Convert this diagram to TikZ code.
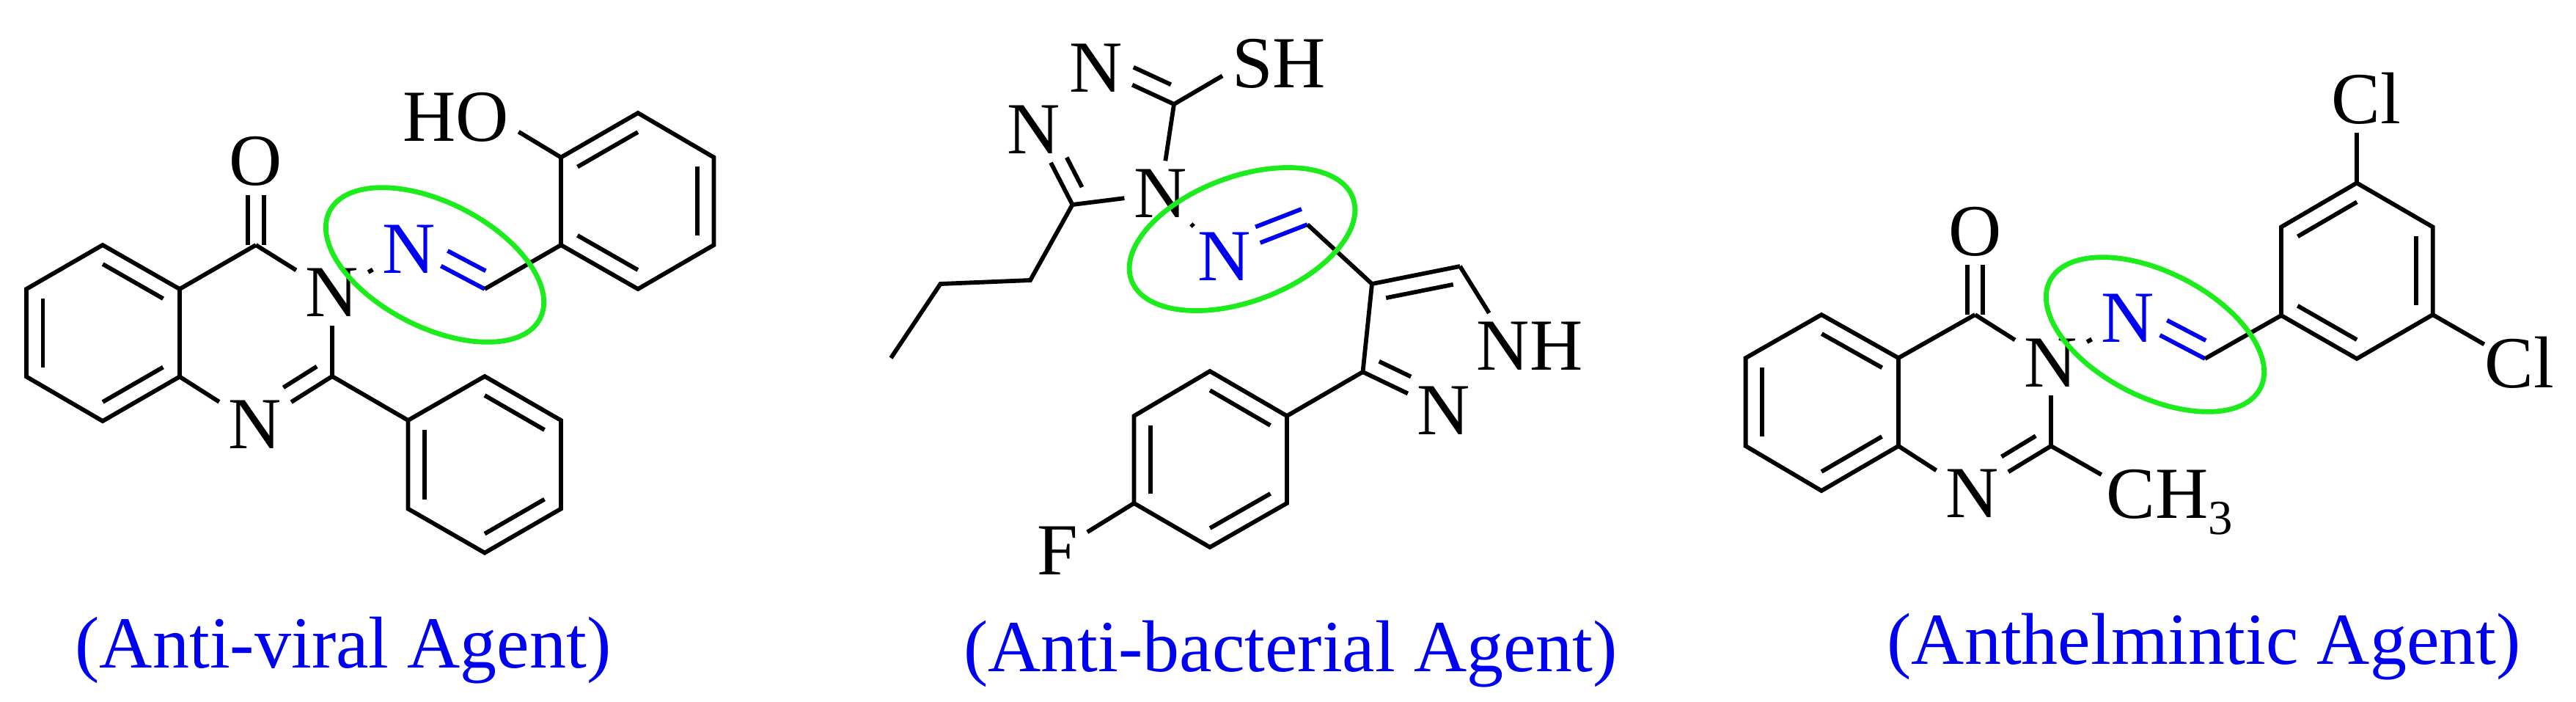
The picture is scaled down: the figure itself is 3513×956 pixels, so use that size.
\documentclass[tikz,border=0pt]{standalone}
\usepackage{fontspec}
\setmainfont{Liberation Serif}
\usetikzlibrary{calc}
\usetikzlibrary{shapes.geometric}
\definecolor{ringgreen}{RGB}{28,236,28}
\definecolor{agentblue}{RGB}{0,0,240}
\newcommand{\innerbond}[6][black]{\draw[bond,#1] ($(#2)!#4!(#3)!.225cm!#6:(#3)$) -- ($(#2)!#5!(#3)!.225cm!#6:(#3)$);}
\tikzset{
  bond/.style={line width=.058cm,line join=miter},
  atom/.style={inner xsep=.13cm,inner ysep=.12cm,outer sep=0pt},
  blueatom/.style={atom,text=agentblue},
  agent/.style={anchor=base,text=agentblue,inner sep=0pt},
  halo/.style={draw=ringgreen,line width=.068cm,ellipse,minimum width=3.22cm,minimum height=1.70cm,inner sep=0pt}
}
\begin{document}
\begin{tikzpicture}[x=.01cm,y=-.01cm,font=\fontsize{28.45pt}{30pt}\selectfont]
\useasboundingbox (0,0) rectangle (3513,956);
% left molecule
\coordinate (a1) at (140,334);
\coordinate (a2) at (245,394);
\coordinate (a3) at (245,513.5);
\coordinate (a4) at (140,574);
\coordinate (a5) at (36,513.5);
\coordinate (a6) at (36,394);
\coordinate (c4) at (349,334);
\coordinate (c2) at (453,513);
\coordinate (p1) at (556.5,573);
\coordinate (p2) at (661,513);
\coordinate (p3) at (765,573);
\coordinate (p4) at (765,693.6);
\coordinate (p5) at (661,753.6);
\coordinate (p6) at (556.5,693.6);
\coordinate (im) at (661,394);
\coordinate (r1) at (765,334);
\coordinate (r2) at (765,214.5);
\coordinate (r3) at (870,154);
\coordinate (r4) at (973.5,214.5);
\coordinate (r5) at (973.5,334);
\coordinate (r6) at (870,394);
\node [atom, name=o1] at (349,220) {O};
\node [atom, name=n3] at (453,399) {N};
\node [atom, name=n1] at (348,579) {N};
\node [blueatom, name=bn] at (557.5,339.5) {N};
\node [atom, name=ho] at (622,160) {HO};
\node [agent, name=lab1] at (468,910) {(Anti-viral Agent)};
\draw [bond] (a1) -- (a2) -- (a3) -- (a4) -- (a5) -- (a6) -- cycle;
\innerbond{a1}{a2}{.108}{.892}{-90}
\innerbond{a3}{a4}{.108}{.892}{-90}
\innerbond{a5}{a6}{.108}{.892}{-90}
\draw [bond] (a2) -- (c4);
\draw [bond] ([xshift=-.11cm]c4) -- ([xshift=-.11cm]o1.south);
\draw [bond] ([xshift=.11cm]c4) -- ([xshift=.11cm]o1.south);
\draw [bond] (c4) -- (n3);
\draw [bond] (n3) -- (c2);
\draw [bond] (c2) -- (n1);
\innerbond{c2}{n1}{.085}{.52}{-90}
\draw [bond] (a3) -- (n1);
\draw [bond] (c2) -- (p1);
\draw [bond] (p1) -- (p2) -- (p3) -- (p4) -- (p5) -- (p6) -- cycle;
\innerbond{p2}{p3}{.108}{.892}{-90}
\innerbond{p4}{p5}{.108}{.892}{-90}
\innerbond{p6}{p1}{.108}{.892}{-90}
\draw [bond] (n3) -- (bn);
\draw [bond,agentblue,shorten >=-.06cm] (im) -- (bn);
\innerbond[agentblue]{im}{bn}{.088}{.59}{-90}
\draw [bond] (im) -- (r1);
\draw [bond] (r1) -- (r2) -- (r3) -- (r4) -- (r5) -- (r6) -- cycle;
\innerbond{r2}{r3}{.108}{.892}{-90}
\innerbond{r4}{r5}{.108}{.892}{-90}
\innerbond{r6}{r1}{.108}{.892}{-90}
\draw [bond] (r2) -- (ho.-13);
\node [halo, rotate=-27, name=h1] at (593,361) {};
% middle molecule
\coordinate (t1) at (1601,142);
\coordinate (t2) at (1462.5,279);
\coordinate (b1) at (1405,382);
\coordinate (b2) at (1282.5,387);
\coordinate (b3) at (1215,488);
\coordinate (im2) at (1783,306);
\coordinate (z4) at (1871,387);
\coordinate (z5) at (1991,363);
\coordinate (z3) at (1858.5,507);
\coordinate (s1) at (1755,567);
\coordinate (s2) at (1650,506);
\coordinate (s3) at (1546.5,567);
\coordinate (s4) at (1546.5,686);
\coordinate (s5) at (1650,746);
\coordinate (s6) at (1755,686);
\node [atom, name=tn1] at (1495,93) {N};
\node [atom, name=tn2] at (1410,177) {N};
\node [atom, name=tn4] at (1582.5,264) {N};
\node [atom, name=sh] at (1744,87) {SH};
\node [blueatom, name=bn2] at (1669.5,350) {N};
\node [atom, name=nh] at (2086,471.5) {NH};
\node [atom, name=zn] at (1969,560) {N};
\node [atom, name=fl] at (1442,750.5) {F};
\node [agent, name=lab2] at (1760,915) {(Anti-bacterial Agent)};
\draw [bond] (t1) -- (sh.192);
\draw [bond] (t1) -- (tn1);
\innerbond{t1}{tn1}{.128}{.61}{-90}
\draw [bond] (t1) -- (tn4);
\draw [bond] (t2) -- (tn4);
\draw [bond] (t2) -- (tn2);
\innerbond{t2}{tn2}{.133}{.53}{-90}
\draw [bond] (t2) -- (b1) -- (b2) -- (b3);
\draw [bond] (tn4) -- (bn2);
\draw [bond,agentblue] (im2) -- (bn2);
\innerbond[agentblue]{im2}{bn2}{0}{.553}{-90}
\draw [bond] (im2) -- (z4);
\draw [bond] (z4) -- (z5);
\innerbond{z4}{z5}{.123}{.886}{-90}
\draw [bond] (z5) -- (nh.141);
\draw [bond] (z4) -- (z3);
\draw [bond] (z3) -- (zn);
\innerbond{z3}{zn}{.113}{.506}{90}
\draw [bond] (z3) -- (s1);
\draw [bond] (s1) -- (s2) -- (s3) -- (s4) -- (s5) -- (s6) -- cycle;
\innerbond{s1}{s2}{.108}{.892}{90}
\innerbond{s3}{s4}{.108}{.892}{90}
\innerbond{s5}{s6}{.108}{.892}{90}
\draw [bond] (s4) -- (fl);
\node [halo, rotate=20.4, name=h2] at (1694,326) {};
% right molecule
\coordinate (d1) at (2484,429);
\coordinate (d2) at (2589,488);
\coordinate (d3) at (2589,608);
\coordinate (d4) at (2484,669);
\coordinate (d5) at (2380.6,608);
\coordinate (d6) at (2380.6,488);
\coordinate (k4) at (2693.4,429);
\coordinate (k2) at (2797,608);
\coordinate (im3) at (3007,489);
\coordinate (e1) at (3111,430);
\coordinate (e2) at (3111,309.4);
\coordinate (e3) at (3214,249.4);
\coordinate (e4) at (3317.6,309.4);
\coordinate (e5) at (3317.6,429);
\coordinate (e6) at (3214,489);
\node [atom, name=o3] at (2693.4,315.5) {O};
\node [atom, name=k3] at (2797,494.5) {N};
\node [atom, name=k1] at (2689.7,673) {N};
\node [blueatom, name=bn3] at (2901.7,434) {N};
\node [atom, name=cl1] at (3227,134) {Cl};
\node [atom, inner xsep=.01cm, name=cl2] at (3436,494) {Cl};
\node [anchor=base west, inner sep=0pt, name=ch3] at (2871.7,706) {CH\raisebox{-.22cm}{\fontsize{19pt}{20pt}\selectfont 3}};
\node [agent, name=lab3] at (3005.5,905) {(Anthelmintic Agent)};
\draw [bond] (d1) -- (d2) -- (d3) -- (d4) -- (d5) -- (d6) -- cycle;
\innerbond{d1}{d2}{.108}{.892}{-90}
\innerbond{d3}{d4}{.108}{.892}{-90}
\innerbond{d5}{d6}{.108}{.892}{-90}
\draw [bond] (d2) -- (k4);
\draw [bond] ([xshift=-.105cm]k4) -- ([xshift=-.105cm]o3.south);
\draw [bond] ([xshift=.105cm]k4) -- ([xshift=.105cm]o3.south);
\draw [bond] (k4) -- (k3);
\draw [bond] (k3) -- (k2);
\draw [bond] (k2) -- (k1);
\innerbond{k2}{k1}{.085}{.52}{-90}
\draw [bond] (d3) -- (k1);
\draw [bond] (k2) -- ([shift={(-6,8)}]ch3.north west);
\draw [bond] (k3) -- (bn3);
\draw [bond,agentblue,shorten >=-.06cm] (im3) -- (bn3);
\innerbond[agentblue]{im3}{bn3}{.088}{.59}{-90}
\draw [bond] (im3) -- (e1);
\draw [bond] (e1) -- (e2) -- (e3) -- (e4) -- (e5) -- (e6) -- cycle;
\innerbond{e2}{e3}{.108}{.892}{-90}
\innerbond{e4}{e5}{.108}{.892}{-90}
\innerbond{e6}{e1}{.108}{.892}{-90}
\draw [bond] (e3) -- (e3 |- cl1.south);
\draw [bond] (e5) -- (cl2.153);
\node [halo, rotate=-27, name=h3] at (2939,456) {};
\end{tikzpicture}
\end{document}
